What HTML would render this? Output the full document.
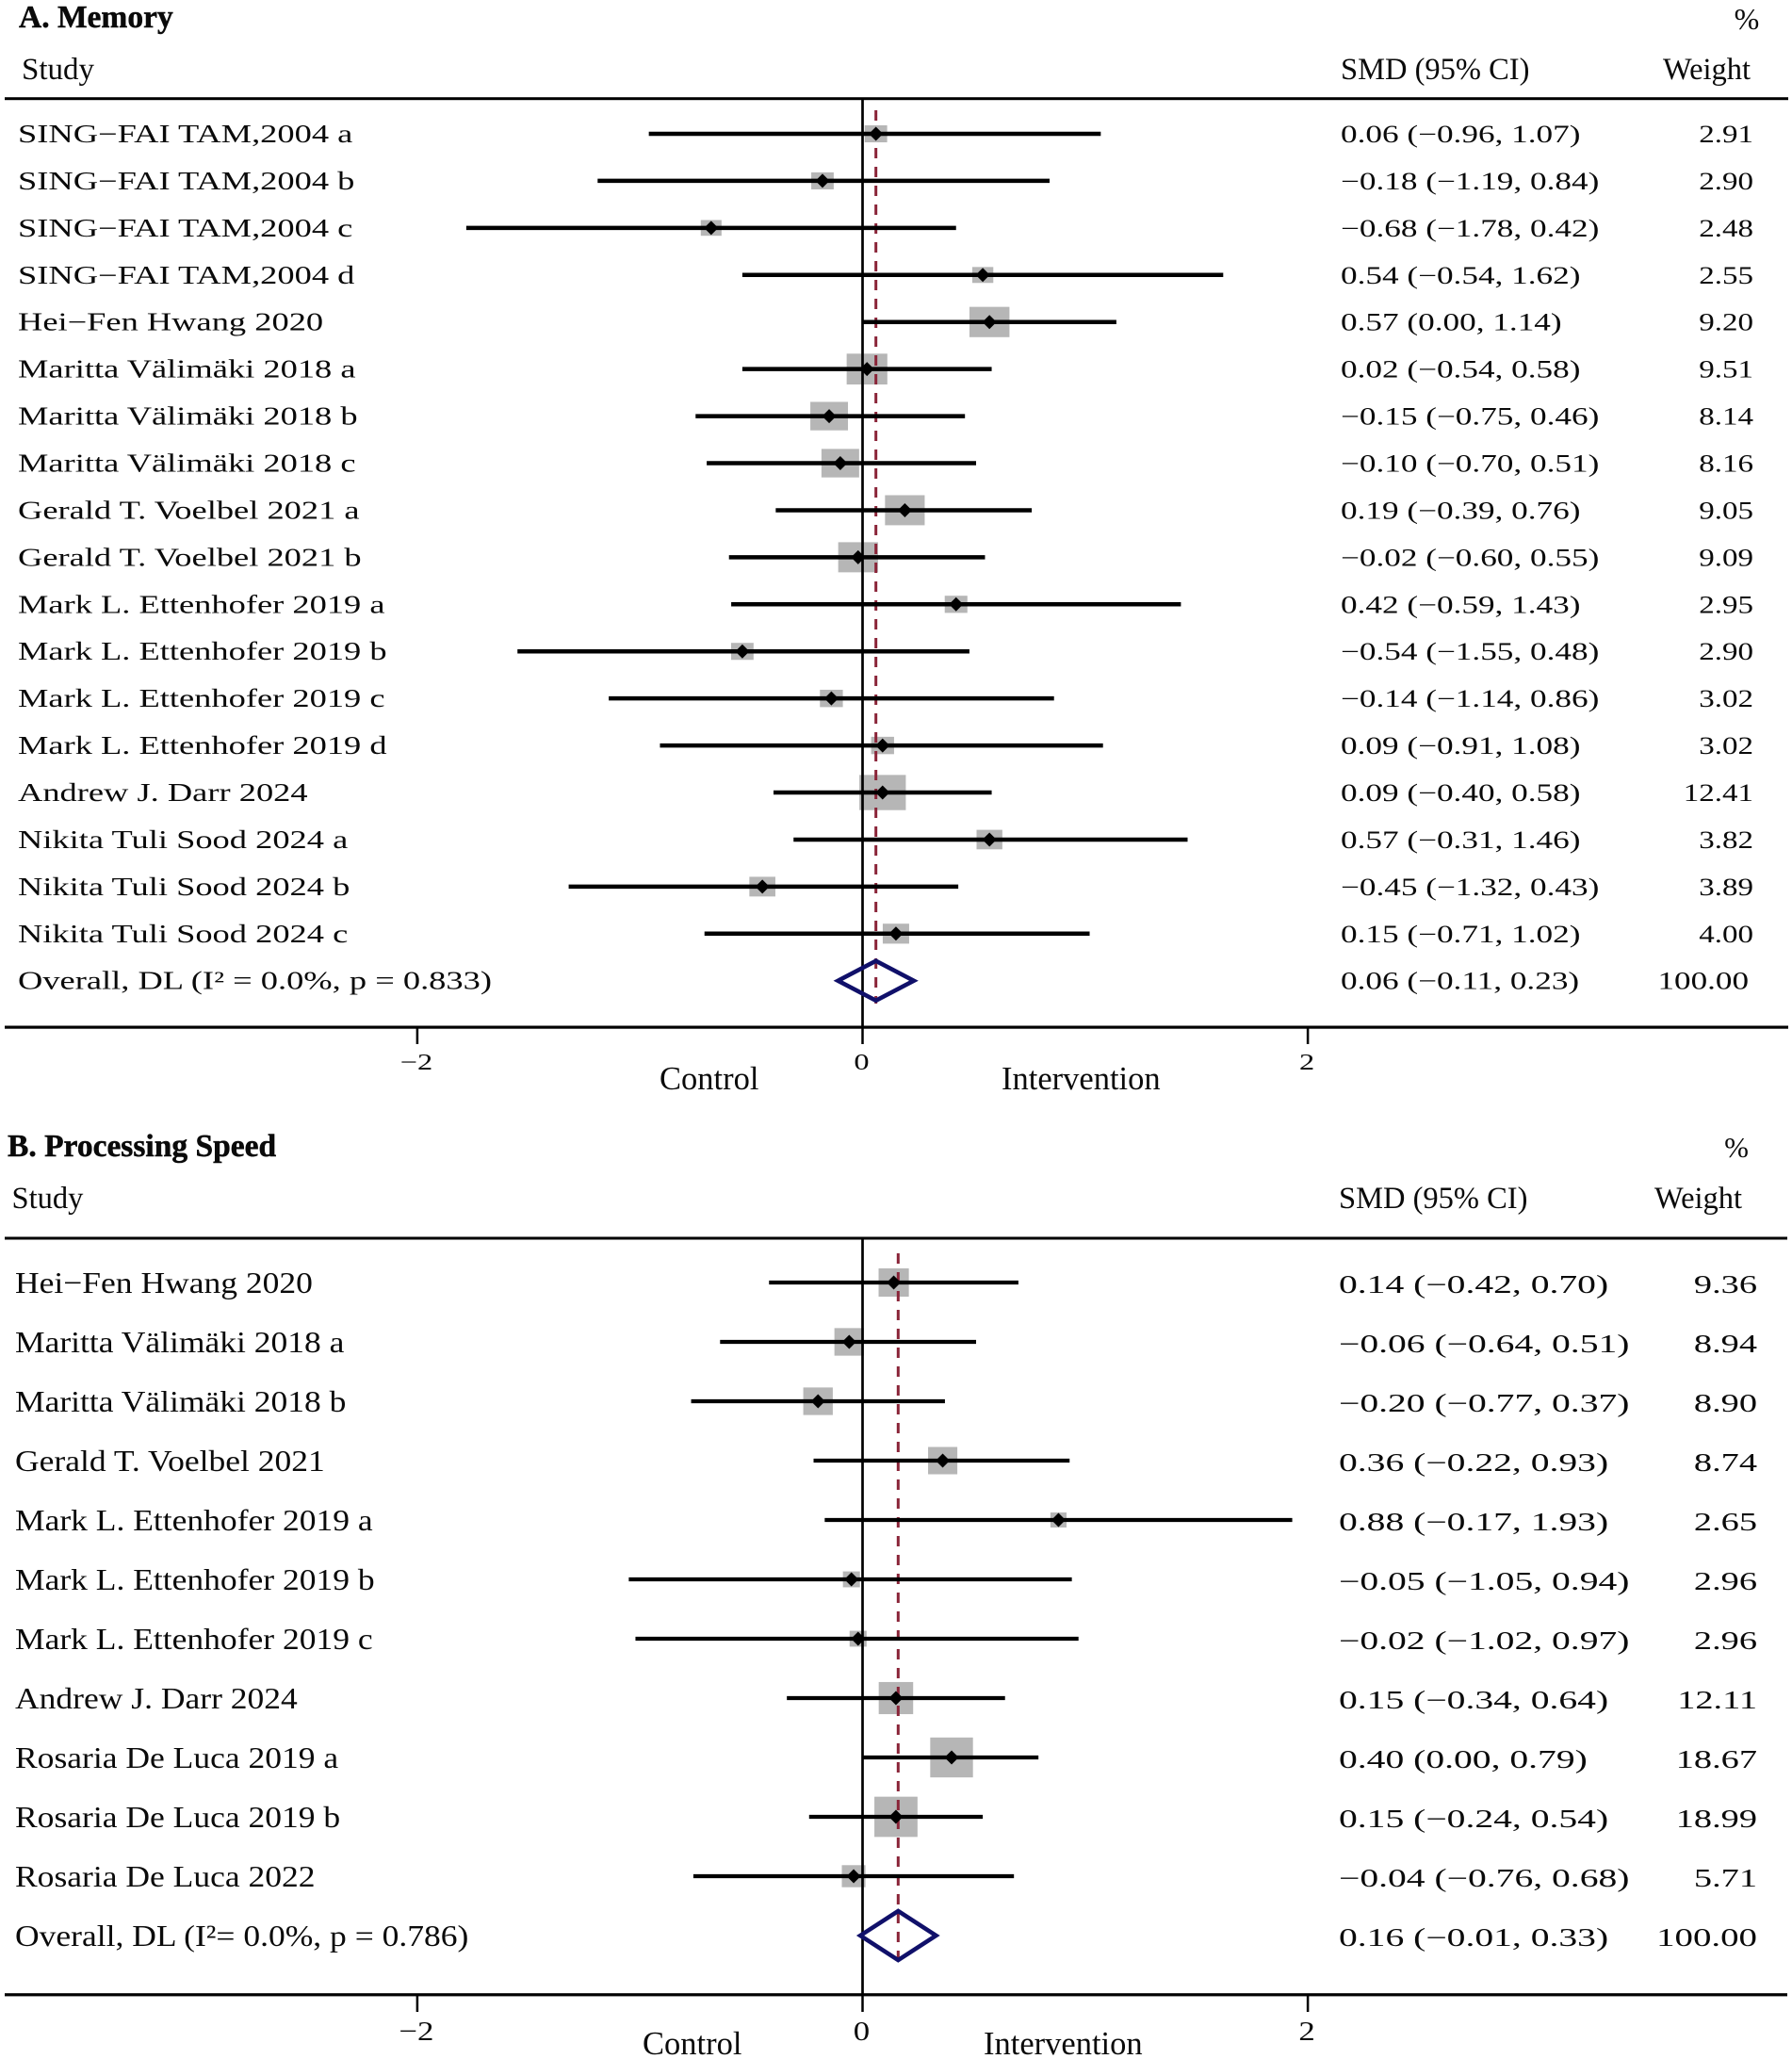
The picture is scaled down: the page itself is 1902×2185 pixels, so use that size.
<!DOCTYPE html>
<html lang="en">
<head>
<meta charset="utf-8">
<title>Forest plots: Memory and Processing Speed</title>
<style>
  html, body { margin: 0; padding: 0; background: #fff; }
  svg { display: block; }
  text { font-family: "Liberation Serif", "Noto Serif CJK SC", serif; fill: #0a0a0a; }
</style>
</head>
<body>
<svg id="chart" xmlns="http://www.w3.org/2000/svg" width="1902" height="2185" viewBox="0 0 1902 2185">
  <rect x="0" y="0" width="1902" height="2185" fill="#fff"/>

  <g id="panel-a">
    <text x="20" y="29" font-size="33.5" font-weight="bold" stroke="#0a0a0a" stroke-width="0.5">A. Memory</text>
    <text x="1854" y="31" font-size="32" text-anchor="middle">%</text>
    <text x="23" y="84" font-size="33">Study</text>
    <text x="1423" y="84" font-size="32.5">SMD (95% CI)</text>
    <text x="1765" y="84" font-size="32.5">Weight</text>
    <rect x="5" y="103.2" width="1893" height="3" fill="#000"/>
    <rect x="5" y="1088.5" width="1893" height="3.2" fill="#000"/>
    <text x="700" y="1156" font-size="34.5">Control</text>
    <text x="1063" y="1156" font-size="34.5">Intervention</text>
  </g>

  <g id="panel-b">
    <text x="8" y="1227" font-size="33.5" font-weight="bold" stroke="#0a0a0a" stroke-width="0.5">B. Processing Speed</text>
    <text x="1843" y="1228" font-size="31" text-anchor="middle">%</text>
    <text x="12.5" y="1282" font-size="32.5">Study</text>
    <text x="1421" y="1282" font-size="32.5">SMD (95% CI)</text>
    <text x="1756" y="1282" font-size="32.5">Weight</text>
    <rect x="5" y="1312.5" width="1892" height="3" fill="#000"/>
    <rect x="5" y="2115.2" width="1892" height="3.2" fill="#000"/>
    <text x="682" y="2180" font-size="34.5">Control</text>
    <text x="1044" y="2180" font-size="34.5">Intervention</text>
  </g>
</svg>

<script>
// ---------- Panel A: Memory ----------
const memoryStudies = [
  "SING−FAI TAM,2004 a", "SING−FAI TAM,2004 b", "SING−FAI TAM,2004 c", "SING−FAI TAM,2004 d",
  "Hei−Fen Hwang 2020", "Maritta Välimäki 2018 a", "Maritta Välimäki 2018 b", "Maritta Välimäki 2018 c",
  "Gerald T. Voelbel 2021 a", "Gerald T. Voelbel 2021 b", "Mark L. Ettenhofer 2019 a", "Mark L. Ettenhofer 2019 b",
  "Mark L. Ettenhofer 2019 c", "Mark L. Ettenhofer 2019 d", "Andrew J. Darr 2024", "Nikita Tuli Sood 2024 a",
  "Nikita Tuli Sood 2024 b", "Nikita Tuli Sood 2024 c"
];
const memorySmd = [0.06, -0.18, -0.68, 0.54, 0.57, 0.02, -0.15, -0.10, 0.19, -0.02, 0.42, -0.54, -0.14, 0.09, 0.09, 0.57, -0.45, 0.15];
const memoryLower = [-0.96, -1.19, -1.78, -0.54, 0.00, -0.54, -0.75, -0.70, -0.39, -0.60, -0.59, -1.55, -1.14, -0.91, -0.40, -0.31, -1.32, -0.71];
const memoryUpper = [1.07, 0.84, 0.42, 1.62, 1.14, 0.58, 0.46, 0.51, 0.76, 0.55, 1.43, 0.48, 0.86, 1.08, 0.58, 1.46, 0.43, 1.02];
const memoryWeight = [2.91, 2.90, 2.48, 2.55, 9.20, 9.51, 8.14, 8.16, 9.05, 9.09, 2.95, 2.90, 3.02, 3.02, 12.41, 3.82, 3.89, 4.00];
const memoryOverallLabel = "Overall, DL (I² = 0.0%, p = 0.833)";
const memoryOverallSmd = 0.06;
const memoryOverallLower = -0.11;
const memoryOverallUpper = 0.23;
const memoryOverallWeight = 100.00;

// ---------- Panel B: Processing Speed ----------
const speedStudies = [
  "Hei−Fen Hwang 2020", "Maritta Välimäki 2018 a", "Maritta Välimäki 2018 b", "Gerald T. Voelbel 2021",
  "Mark L. Ettenhofer 2019 a", "Mark L. Ettenhofer 2019 b", "Mark L. Ettenhofer 2019 c", "Andrew J. Darr 2024",
  "Rosaria De Luca 2019 a", "Rosaria De Luca 2019 b", "Rosaria De Luca 2022"
];
const speedSmd = [0.14, -0.06, -0.20, 0.36, 0.88, -0.05, -0.02, 0.15, 0.40, 0.15, -0.04];
const speedLower = [-0.42, -0.64, -0.77, -0.22, -0.17, -1.05, -1.02, -0.34, 0.00, -0.24, -0.76];
const speedUpper = [0.70, 0.51, 0.37, 0.93, 1.93, 0.94, 0.97, 0.64, 0.79, 0.54, 0.68];
const speedWeight = [9.36, 8.94, 8.90, 8.74, 2.65, 2.96, 2.96, 12.11, 18.67, 18.99, 5.71];
const speedOverallLabel = "Overall, DL (I²= 0.0%, p = 0.786)";
const speedOverallSmd = 0.16;
const speedOverallLower = -0.01;
const speedOverallUpper = 0.33;
const speedOverallWeight = 100.00;

// ---------- Axis ----------
const axisTicks = [-2, 0, 2];

const SVG_NS = "http://www.w3.org/2000/svg";
function xScale(v) { return 915.5 + v * 236.3; }
function fmt(v) { return (v < 0 ? "−" : "") + Math.abs(v).toFixed(2); }
function fmtTick(v) { return (v < 0 ? "−" : "") + Math.abs(v); }
function ciText(m, l, u) { return fmt(m) + " (" + fmt(l) + ", " + fmt(u) + ")"; }

function shape(parent, tag, attrs) {
  const el = document.createElementNS(SVG_NS, tag);
  Object.keys(attrs).forEach(function (k) { el.setAttribute(k, attrs[k]); });
  parent.appendChild(el);
  return el;
}
function label(parent, x, y, str, size, sx, anchor) {
  const el = document.createElementNS(SVG_NS, "text");
  el.setAttribute("transform", "translate(" + x + "," + y + ") scale(" + sx + ",1)");
  el.setAttribute("font-size", size);
  el.setAttribute("text-anchor", anchor || "start");
  el.textContent = str;
  parent.appendChild(el);
  return el;
}

function drawPanel(p) {
  const root = document.getElementById(p.id);
  const rowY = function (i) { return p.y0 + i * p.dy; };

  // boxes
  p.weight.forEach(function (w, i) {
    const bw = p.boxW * Math.sqrt(w);
    const bh = p.boxH * Math.sqrt(w);
    const box = shape(root, "rect", { x: xScale(p.smd[i]) - bw / 2, y: rowY(i) - bh / 2, width: bw, height: bh, fill: "#b6b6b6" });
    
    
  });

  // overall reference dashed line
  const dash = shape(root, "line", { x1: xScale(p.ovSmd), x2: xScale(p.ovSmd), y1: p.dashTop, y2: p.dashBottom, stroke: "#8a2438", "stroke-width": 3, "stroke-dasharray": "11 9" });
  
  

  // confidence intervals
  p.smd.forEach(function (m, i) {
    const ci = shape(root, "line", { x1: xScale(p.lower[i]), x2: xScale(p.upper[i]), y1: rowY(i), y2: rowY(i), stroke: "#000", "stroke-width": p.ciW });
    
    
  });

  // zero line and ticks
  const zero = shape(root, "line", { x1: xScale(0), x2: xScale(0), y1: p.ruleTop, y2: p.axisY, stroke: "#000", "stroke-width": 2.7 });
  
  
  axisTicks.forEach(function (t) {
    const tick = shape(root, "line", { x1: xScale(t), x2: xScale(t), y1: p.axisY, y2: p.tickEnd, stroke: "#000", "stroke-width": 2.5 });
    
    
    const tl = label(root, xScale(t) - 1, p.tickBase, fmtTick(t), p.tickSize, p.tickSx, "middle");
    
    
  });

  // point markers
  p.smd.forEach(function (m, i) {
    const cx = xScale(m), cy = rowY(i), r = 7.5;
    const pts = [[cx, cy - r], [cx + r, cy], [cx, cy + r], [cx - r, cy]].map(function (q) { return q.join(","); }).join(" ");
    const mk = shape(root, "polygon", { points: pts, fill: "#000" });
    
    
  });

  // overall diamond
  const oy = rowY(p.smd.length);
  const dPts = [[xScale(p.ovLower), oy], [xScale(p.ovSmd), oy - p.diaH], [xScale(p.ovUpper), oy], [xScale(p.ovSmd), oy + p.diaH]].map(function (q) { return q.join(","); }).join(" ");
  const dia = shape(root, "polygon", { points: dPts, fill: "none", stroke: "#10106a", "stroke-width": 4.6 });
  
  

  // text rows
  p.studies.forEach(function (s, i) {
    const y = rowY(i) + p.textOff;
    const a = label(root, p.labelX, y, s, p.labelSize, p.labelSx);
    
    
    const b = label(root, p.valueX, y, ciText(p.smd[i], p.lower[i], p.upper[i]), p.valueSize, p.valueSx);
    
    
    const c = label(root, p.weightX, y, p.weight[i].toFixed(2), p.valueSize, p.weightSx, "end");
    
    
  });
  const oty = oy + p.textOff;
  const oa = label(root, p.labelX, oty, p.ovLabel, p.labelSize, p.labelSx);
  
  
  const ob = label(root, p.valueX, oty, ciText(p.ovSmd, p.ovLower, p.ovUpper), p.valueSize, p.valueSx);
  
  
  const oc = label(root, p.ovWeightX, oty, p.ovWeight.toFixed(2), p.valueSize, p.ovWeightSx, "end");
  
  
}

drawPanel({
  id: "panel-a", studies: memoryStudies, smd: memorySmd, lower: memoryLower, upper: memoryUpper, weight: memoryWeight,
  ovLabel: memoryOverallLabel, ovSmd: memoryOverallSmd, ovLower: memoryOverallLower, ovUpper: memoryOverallUpper, ovWeight: memoryOverallWeight,
  y0: 142, dy: 49.93, textOff: 9, boxW: 14, boxH: 10.6, ciW: 4.5, diaH: 21,
  ruleTop: 105, axisY: 1090, tickEnd: 1108, dashTop: 117, dashBottom: 1065,
  tickBase: 1135, tickSize: 24, tickSx: 1.35,
  labelX: 19, labelSize: 27, labelSx: 1.35, valueX: 1423, valueSize: 26, valueSx: 1.354,
  weightX: 1861, ovWeightX: 1856, weightSx: 1.27, ovWeightSx: 1.35
});
drawPanel({
  id: "panel-b", studies: speedStudies, smd: speedSmd, lower: speedLower, upper: speedUpper, weight: speedWeight,
  ovLabel: speedOverallLabel, ovSmd: speedOverallSmd, ovLower: speedOverallLower, ovUpper: speedOverallUpper, ovWeight: speedOverallWeight,
  y0: 1361, dy: 63, textOff: 11, boxW: 10.5, boxH: 9.8, ciW: 4.3, diaH: 26,
  ruleTop: 1314, axisY: 2117, tickEnd: 2135, dashTop: 1330, dashBottom: 2085,
  tickBase: 2165, tickSize: 29, tickSx: 1.2,
  labelX: 16, labelSize: 32, labelSx: 1.11, valueX: 1421, valueSize: 27, valueSx: 1.466,
  weightX: 1865, ovWeightX: 1865, weightSx: 1.42, ovWeightSx: 1.44
});
</script>
</body>
</html>
